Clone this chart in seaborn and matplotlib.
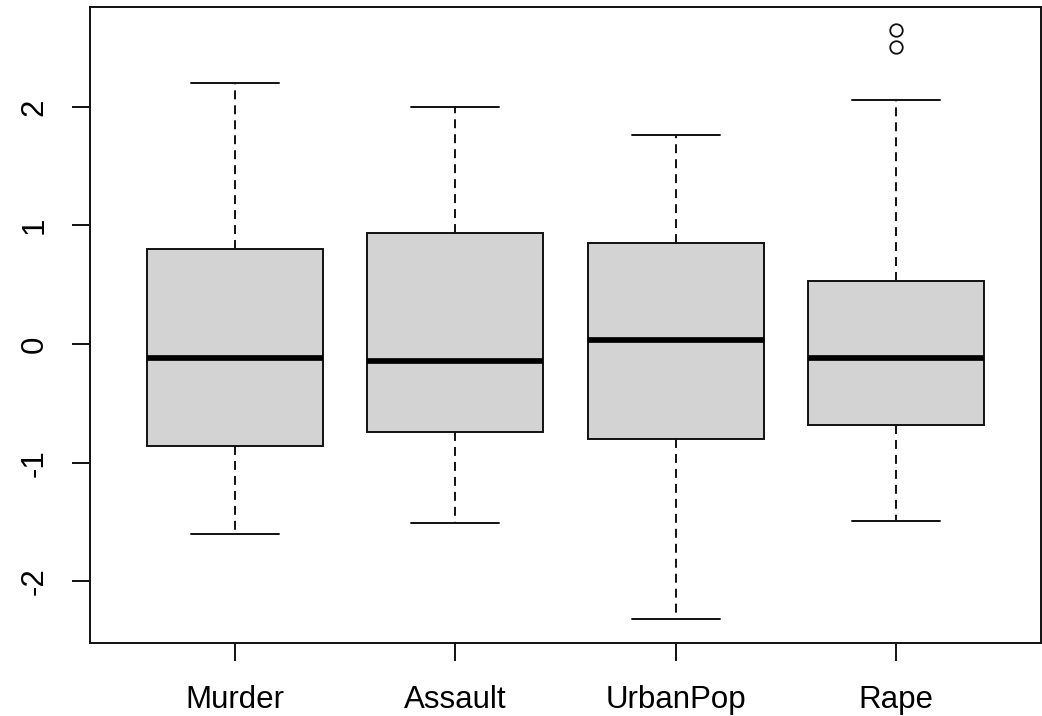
import matplotlib
matplotlib.use("Agg")
import matplotlib.pyplot as plt
import numpy as np
import pandas as pd
import seaborn as sns

# Standardised USArrests variables: five-number summaries and outliers
variables = ["Murder", "Assault", "UrbanPop", "Rape"]
whisker_low = [-1.60, -1.51, -2.32, -1.49]
lower_quartile = [-0.86, -0.74, -0.80, -0.68]
median = [-0.12, -0.14, 0.03, -0.12]
upper_quartile = [0.80, 0.94, 0.85, 0.53]
whisker_high = [2.20, 2.00, 1.76, 2.06]
outliers = [[], [], [], [2.50, 2.65]]

y_ticks = [-2, -1, 0, 1, 2]


def summary_sample(lo, q1, q2, q3, hi, extra):
    # Repeat the hinges so linear percentiles fall exactly on them
    r = 1 + len(extra)
    return [lo] + [q1] * r + [q2] * r + [q3] * r + [hi] + list(extra)


rows = []
for i, name in enumerate(variables):
    for v in summary_sample(whisker_low[i], lower_quartile[i], median[i],
                            upper_quartile[i], whisker_high[i], outliers[i]):
        rows.append({"variable": name, "value": v})
df = pd.DataFrame(rows)

sns.set_theme(style="white")
plt.rcParams["font.family"] = ["Liberation Sans", "DejaVu Sans"]

LW = 1.4

fig = plt.figure(figsize=(10.42, 7.16), dpi=100)
ax = fig.add_axes([0.0864, 0.102, 0.9126, 0.888])

sns.boxplot(
    data=df, x="variable", y="value", order=variables, ax=ax,
    color="#D3D3D3", saturation=1, linecolor="#111111", linewidth=LW,
    width=0.8, whis=1.5, fliersize=9,
    medianprops={"linewidth": 4.1, "color": "black", "solid_capstyle": "butt"},
    whiskerprops={"linestyle": (0, (4.6, 3.1)), "linewidth": LW, "color": "#111111"},
    capprops={"linewidth": LW, "color": "#111111"},
    flierprops={"marker": "o", "markerfacecolor": "none",
                "markeredgecolor": "#111111", "markeredgewidth": 1.3},
)

ax.set_xlim(0.34 - 1, 4.66 - 1)
ax.set_ylim(-2.52, 2.84)
ax.set_yticks(y_ticks)
ax.set_yticklabels([str(t) for t in y_ticks], rotation=90, va="center")
ax.set_xlabel("")
ax.set_ylabel("")

for side in ["left", "right", "top", "bottom"]:
    ax.spines[side].set_visible(True)
    ax.spines[side].set_color("#111111")
    ax.spines[side].set_linewidth(LW)

ax.tick_params(axis="both", which="major", direction="out", length=13,
               width=LW, color="#111111", labelsize=22.5, labelcolor="black",
               left=True, bottom=True)
ax.tick_params(axis="x", pad=17)
ax.tick_params(axis="y", pad=16)
ax.grid(False)
ax.set_facecolor("white")

fig.savefig("out.png", dpi=100, facecolor="white")
